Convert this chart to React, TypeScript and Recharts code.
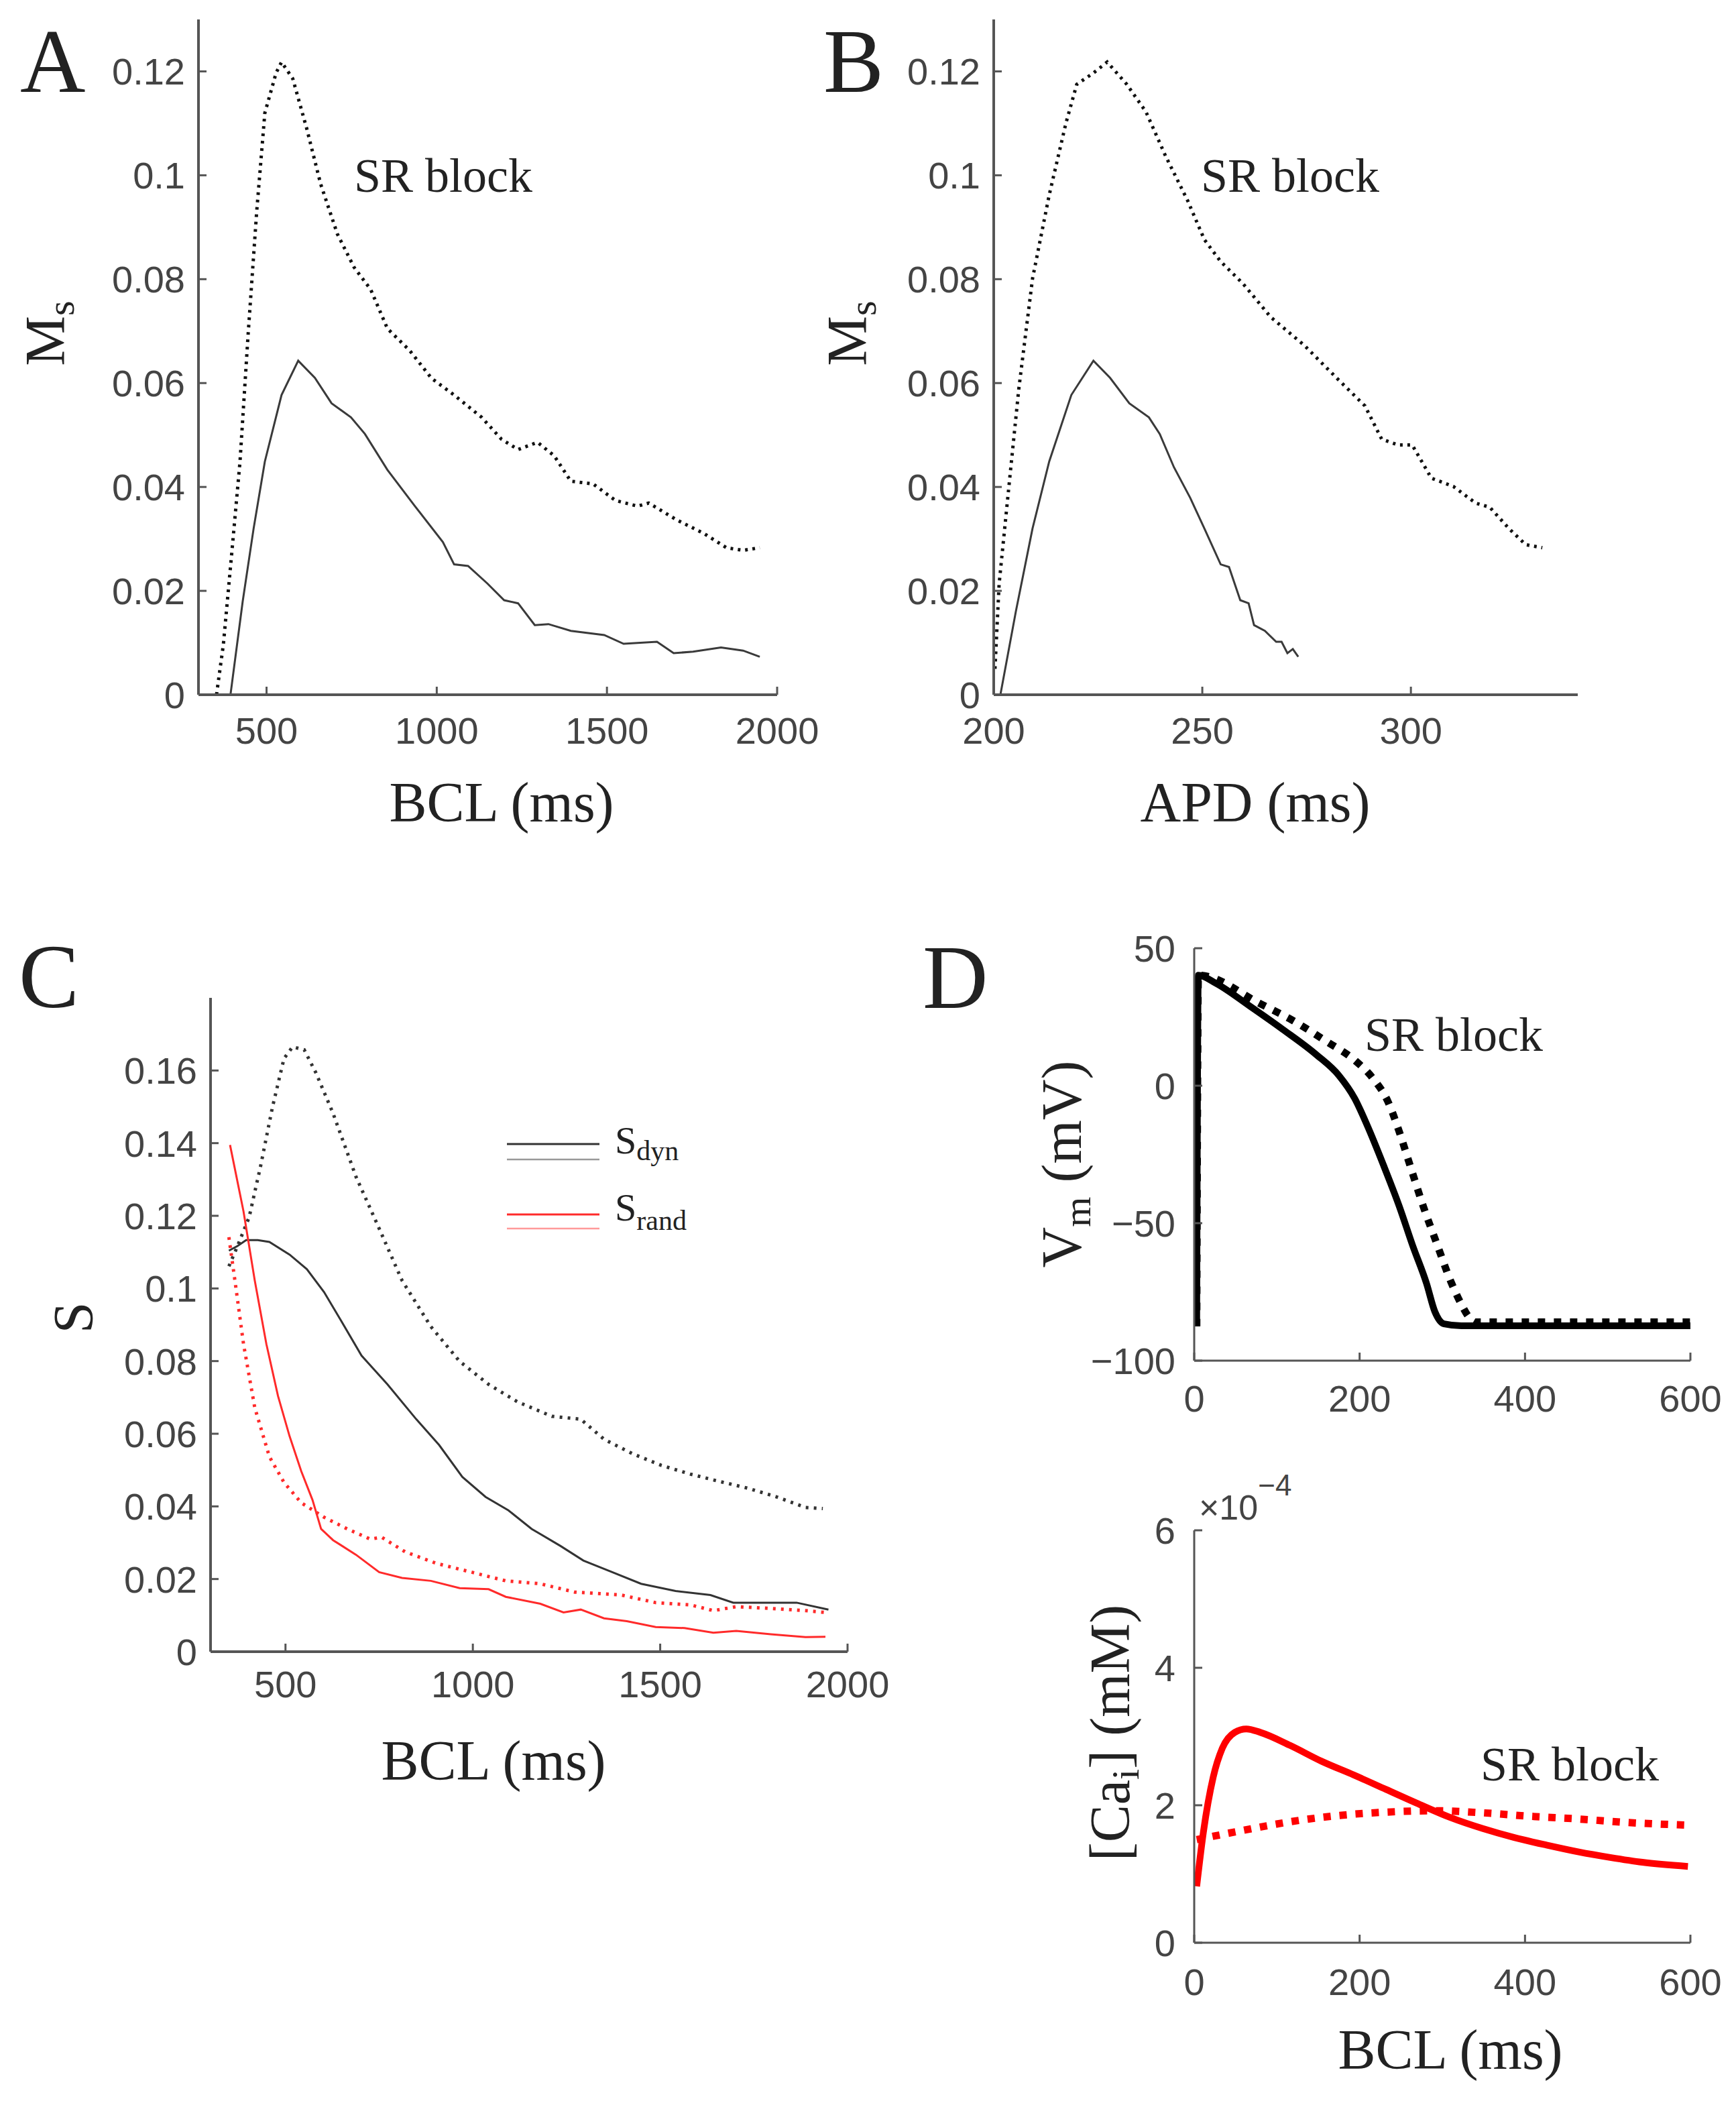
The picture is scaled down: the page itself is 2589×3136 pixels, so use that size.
import React from 'react'
import { LineChart, Line, XAxis, YAxis, Label, Legend } from 'recharts'

const SERIF = '"Liberation Serif", "DejaVu Serif", serif'
const SANS = '"Liberation Sans", Arial, sans-serif'
const INK = '#222'
const TICK = '#444'
const AXIS = '#555'
const RED = '#ff2a2a'

// ---------- A: Ms vs BCL ----------
const aCtrlBcl = [394, 430, 462, 495, 544, 593, 642, 691, 748, 789, 855, 936, 1018, 1051, 1092, 1149, 1198, 1239, 1288, 1328, 1394, 1492, 1549, 1647, 1696, 1753, 1835, 1900, 1949]
const aCtrlMs = [0, 0.018, 0.032, 0.0449, 0.0577, 0.0643, 0.061, 0.0561, 0.0534, 0.0502, 0.0433, 0.0363, 0.0294, 0.0251, 0.0248, 0.0214, 0.0182, 0.0176, 0.0134, 0.0136, 0.0123, 0.0115, 0.0098, 0.0102, 0.008, 0.0083, 0.0091, 0.0085, 0.0073]
const aSrBcl = [353, 373, 397, 422, 446, 471, 495, 528, 544, 577, 618, 659, 708, 757, 806, 855, 920, 985, 1051, 1132, 1190, 1239, 1296, 1345, 1394, 1459, 1525, 1590, 1623, 1704, 1786, 1851, 1900, 1949]
const aSrMs = [0, 0.0096, 0.0267, 0.0449, 0.0695, 0.093, 0.112, 0.1197, 0.1218, 0.1186, 0.109, 0.0983, 0.0887, 0.0823, 0.078, 0.0705, 0.0663, 0.0609, 0.0577, 0.0534, 0.0492, 0.0472, 0.0486, 0.046, 0.0411, 0.0406, 0.0374, 0.0363, 0.0369, 0.0337, 0.031, 0.0283, 0.0278, 0.0283]

// ---------- B: Ms vs APD ----------
const bCtrlApd = [201.6, 205.3, 209.3, 213.3, 218.6, 223.9, 227.9, 232.5, 237.2, 239.8, 243.2, 247.1, 250.5, 254.4, 256.4, 259.1, 261.1, 262.4, 265, 267.7, 269, 270.4, 271.7, 273]
const bCtrlMs = [0, 0.016, 0.032, 0.0449, 0.0577, 0.0643, 0.061, 0.0561, 0.0534, 0.0502, 0.0438, 0.0379, 0.032, 0.0251, 0.0246, 0.0182, 0.0176, 0.0134, 0.0123, 0.0102, 0.0102, 0.008, 0.0088, 0.0073]
const bSrApd = [200.3, 201.3, 203.3, 206, 209.3, 213.3, 217.3, 219.9, 223.9, 227.2, 231.9, 236.5, 241.2, 246.5, 250.5, 254.4, 259.8, 266.4, 274.4, 282.3, 289, 293, 296.9, 300.3, 304.9, 310.2, 315.5, 318.9, 323.5, 327.5, 331.5]
const bSrMs = [0.005, 0.0214, 0.0374, 0.0588, 0.0801, 0.0962, 0.11, 0.1175, 0.1197, 0.1218, 0.1175, 0.1122, 0.1037, 0.0951, 0.0876, 0.0834, 0.0791, 0.0727, 0.0673, 0.0609, 0.0556, 0.0492, 0.0481, 0.0481, 0.0417, 0.0401, 0.0369, 0.0361, 0.032, 0.0289, 0.0283]

// ---------- C: S vs BCL ----------
const cDynBcl = [349, 372, 395, 426, 457, 511, 557, 603, 649, 703, 772, 849, 910, 972, 1034, 1095, 1157, 1234, 1295, 1372, 1449, 1541, 1634, 1695, 1787, 1864, 1949]
const cDynS = [0.1104, 0.1117, 0.1133, 0.1133, 0.1128, 0.1093, 0.1053, 0.099, 0.091, 0.0815, 0.0736, 0.064, 0.0569, 0.0481, 0.0426, 0.0389, 0.0338, 0.0291, 0.0251, 0.0219, 0.0187, 0.0167, 0.0156, 0.0135, 0.0135, 0.0135, 0.0116]
const cDynSrBcl = [349, 372, 403, 434, 465, 496, 519, 550, 581, 627, 688, 750, 811, 888, 965, 1042, 1119, 1211, 1288, 1350, 1426, 1503, 1580, 1657, 1734, 1811, 1888, 1934]
const cDynSrS = [0.1061, 0.1117, 0.1196, 0.1339, 0.1498, 0.1633, 0.1665, 0.1657, 0.1594, 0.1482, 0.1308, 0.1165, 0.1022, 0.0895, 0.0799, 0.0736, 0.0688, 0.0648, 0.064, 0.0585, 0.0545, 0.0513, 0.0489, 0.0469, 0.045, 0.0426, 0.0397, 0.0394]
const cRandBcl = [352, 388, 418, 449, 480, 511, 542, 572, 595, 627, 688, 750, 811, 888, 965, 1042, 1088, 1180, 1242, 1288, 1350, 1411, 1488, 1565, 1642, 1703, 1795, 1888, 1941]
const cRandS = [0.1395, 0.1212, 0.1022, 0.0847, 0.0704, 0.0593, 0.0497, 0.0418, 0.0338, 0.0307, 0.0267, 0.0219, 0.0203, 0.0195, 0.0175, 0.0172, 0.0151, 0.0132, 0.0108, 0.0116, 0.0092, 0.0084, 0.0068, 0.0065, 0.0052, 0.0057, 0.0048, 0.004, 0.0041]
const cRandSrBcl = [349, 365, 388, 418, 457, 496, 542, 603, 665, 726, 757, 819, 903, 996, 1088, 1180, 1272, 1396, 1488, 1580, 1642, 1703, 1795, 1888, 1941]
const cRandSrS = [0.1141, 0.1022, 0.0847, 0.0672, 0.0537, 0.0466, 0.041, 0.037, 0.0338, 0.031, 0.0315, 0.0275, 0.0243, 0.0219, 0.0195, 0.0187, 0.0164, 0.0156, 0.0135, 0.0129, 0.0113, 0.0124, 0.0119, 0.0113, 0.0108]

// ---------- D: action potential and calcium transient ----------
const vmTime = [3, 5, 26, 67, 107, 148, 175, 194, 210, 229, 248, 264, 281, 291, 302, 323, 450, 600]
const vmCtrl = [-87.5, 40.2, 37.3, 29, 20.5, 11.2, 3.7, -4.6, -15, -29, -43.9, -58, -72, -82.2, -86.6, -87.3, -87.3, -87.3]
const vmSrTime = [3, 5, 80, 121, 161, 194, 216, 234, 248, 261, 277, 294, 310, 323, 332, 340, 450, 600]
const vmSr = [-87.5, 40.2, 29.8, 23.4, 15.9, 9.3, 2.7, -5.6, -16.8, -29, -43.9, -58, -71, -79.5, -84.1, -86, -86, -86]
const caTime = [3, 11, 23, 34, 49, 63, 80, 116, 154, 193, 232, 271, 310, 349, 387, 426, 465, 503, 542, 597]
const caCtrl = [0.82, 1.6, 2.41, 2.83, 3.06, 3.11, 3.06, 2.87, 2.64, 2.44, 2.23, 2.02, 1.82, 1.66, 1.53, 1.42, 1.32, 1.24, 1.17, 1.11]
const caSrTime = [3, 57, 116, 174, 232, 290, 349, 406, 465, 523, 597]
const caSr = [1.5, 1.63, 1.76, 1.85, 1.9, 1.92, 1.89, 1.84, 1.8, 1.75, 1.71]

// ---------- ticks ----------
const bclTicks = [500, 1000, 1500, 2000]
const apdTicks = [200, 250, 300]
const msTicks = [0, 0.02, 0.04, 0.06, 0.08, 0.1, 0.12]
const sTicks = [0, 0.02, 0.04, 0.06, 0.08, 0.1, 0.12, 0.14, 0.16]
const timeTicks = [0, 200, 400, 600]
const vmTicks = [-100, -50, 0, 50]
const caTicks = [0, 2, 4, 6]

const zip = (xs: number[], ys: number[]) => xs.map((x, i) => ({ x, y: ys[i] }))

type Box = { left: number; top: number; width: number; height: number }
type Plot = { left: number; top: number; right: number; bottom: number }

const YW = 100
const XH = 100

function margins(box: Box, plot: Plot) {
  return {
    left: plot.left - box.left - YW,
    top: plot.top - box.top,
    right: box.left + box.width - plot.right,
    bottom: box.top + box.height - plot.bottom - XH,
  }
}

const minus = (v: number) => (v < 0 ? `\u2212${Math.abs(v)}` : String(v))

function xAxisStyle(margin: number, width = 4) {
  return {
    type: 'number' as const,
    dataKey: 'x',
    height: XH,
    allowDataOverflow: true,
    tickSize: -12,
    tickMargin: margin,
    tick: { fontSize: 56, fill: TICK, fontFamily: SANS },
    tickLine: { stroke: AXIS, strokeWidth: 3 },
    axisLine: { stroke: AXIS, strokeWidth: width },
  }
}

function yAxisStyle(margin: number, width = 4) {
  return {
    type: 'number' as const,
    width: YW,
    allowDataOverflow: true,
    tickSize: -12,
    tickMargin: margin,
    tick: { fontSize: 56, fill: TICK, fontFamily: SANS },
    tickLine: { stroke: AXIS, strokeWidth: 3 },
    axisLine: { stroke: AXIS, strokeWidth: width },
  }
}

// text placed with page coordinates, shifted into the chart's own frame
function pageText(box: Box, x: number, y: number, size: number, body: React.ReactNode, anchor = 'start', rotate = false) {
  const lx = x - box.left
  const ly = y - box.top
  return (
    <Label
      content={() => (
        <text
          x={lx}
          y={ly}
          textAnchor={anchor}
          transform={rotate ? `rotate(-90 ${lx} ${ly})` : undefined}
          fontFamily={SERIF}
          fontSize={size}
          fill={INK}
        >
          {body}
        </text>
      )}
    />
  )
}

const boxA: Box = { left: 0, top: 0, width: 1240, height: 1300 }
const plotA: Plot = { left: 296, top: 29, right: 1159, bottom: 1036 }
const boxB: Box = { left: 1200, top: 0, width: 1389, height: 1300 }
const plotB: Plot = { left: 1482, top: 29, right: 2353, bottom: 1036 }
const boxC: Box = { left: 0, top: 1350, width: 1340, height: 1400 }
const plotC: Plot = { left: 314, top: 1488, right: 1264, bottom: 2463 }
const boxD1: Box = { left: 1340, top: 1350, width: 1249, height: 800 }
const plotD1: Plot = { left: 1781, top: 1414, right: 2521, bottom: 2029 }
const boxD2: Box = { left: 1340, top: 2150, width: 1249, height: 986 }
const plotD2: Plot = { left: 1781, top: 2282, right: 2521, bottom: 2897 }

const thin = { dot: false, isAnimationActive: false, type: 'linear' as const, dataKey: 'y' }
const thick = { dot: false, isAnimationActive: false, type: 'monotone' as const, dataKey: 'y' }

function Pos({ box, children }: { box: Box; children: React.ReactNode }) {
  return <div style={{ position: 'absolute', left: box.left, top: box.top }}>{children}</div>
}

// legend of panel C, drawn in page coordinates from its wrapper at (740, 1660)
function LegendC() {
  return (
    <svg width={360} height={200} style={{ overflow: 'visible' }}>
      <g transform="translate(-740, -1660)">
        <line x1={756} x2={894} y1={1706} y2={1706} stroke="#333" strokeWidth={3} />
        <line x1={756} x2={894} y1={1729} y2={1729} stroke="#999" strokeWidth={2.5} />
        <text x={917} y={1720} fontFamily={SERIF} fontSize={58} fill={INK}>
          S<tspan dy={10} fontSize={42}>dyn</tspan>
        </text>
        <line x1={756} x2={894} y1={1811} y2={1811} stroke={RED} strokeWidth={3} />
        <line x1={756} x2={894} y1={1832} y2={1832} stroke="#ff9a9a" strokeWidth={2.5} />
        <text x={917} y={1820} fontFamily={SERIF} fontSize={58} fill={INK}>
          S<tspan dy={14} fontSize={42}>rand</tspan>
        </text>
      </g>
    </svg>
  )
}

export default function App() {
  return (
    <div style={{ position: 'relative', width: 2589, height: 3136, background: '#fff', overflow: 'hidden' }}>
      <style>{'body{margin:0}'}</style>

      {/* A */}
      <Pos box={boxA}>
        <LineChart width={boxA.width} height={boxA.height} margin={margins(boxA, plotA)}>
          <XAxis {...xAxisStyle(45)} domain={[300, 2000]} ticks={bclTicks}>
            {pageText(boxA, 748, 1225, 84, 'BCL (ms)', 'middle')}
            {pageText(boxA, 528, 286, 72, 'SR block')}
            {pageText(boxA, 30, 137, 135, 'A')}
          </XAxis>
          <YAxis {...yAxisStyle(32)} domain={[0, 0.13]} ticks={msTicks}>
            {pageText(boxA, 96, 497, 84, <>M<tspan dy={14} fontSize={58}>s</tspan></>, 'middle', true)}
          </YAxis>
          <Line {...thin} data={zip(aCtrlBcl, aCtrlMs)} stroke="#3a3a3a" strokeWidth={3} />
          <Line {...thin} data={zip(aSrBcl, aSrMs)} stroke="#111" strokeWidth={5} strokeDasharray="4 7" />
        </LineChart>
      </Pos>

      {/* B */}
      <Pos box={boxB}>
        <LineChart width={boxB.width} height={boxB.height} margin={margins(boxB, plotB)}>
          <XAxis {...xAxisStyle(45)} domain={[200, 340]} ticks={apdTicks}>
            {pageText(boxB, 1872, 1225, 84, 'APD (ms)', 'middle')}
            {pageText(boxB, 1791, 286, 72, 'SR block')}
            {pageText(boxB, 1228, 137, 135, 'B')}
          </XAxis>
          <YAxis {...yAxisStyle(32)} domain={[0, 0.13]} ticks={msTicks}>
            {pageText(boxB, 1292, 497, 84, <>M<tspan dy={14} fontSize={58}>s</tspan></>, 'middle', true)}
          </YAxis>
          <Line {...thin} data={zip(bCtrlApd, bCtrlMs)} stroke="#3a3a3a" strokeWidth={3} />
          <Line {...thin} data={zip(bSrApd, bSrMs)} stroke="#111" strokeWidth={5} strokeDasharray="4 7" />
        </LineChart>
      </Pos>

      {/* C */}
      <Pos box={boxC}>
        <LineChart width={boxC.width} height={boxC.height} margin={margins(boxC, plotC)}>
          <XAxis {...xAxisStyle(40)} domain={[300, 2000]} ticks={bclTicks}>
            {pageText(boxC, 736, 2654, 84, 'BCL (ms)', 'middle')}
            {pageText(boxC, 28, 1502, 135, 'C')}
          </XAxis>
          <YAxis {...yAxisStyle(32)} domain={[0, 0.18]} ticks={sTicks}>
            {pageText(boxC, 138, 1965, 84, 'S', 'middle', true)}
          </YAxis>
          <Legend
            layout="vertical"
            align="center"
            verticalAlign="middle"
            wrapperStyle={{ left: 740, top: 310, width: 360, height: 200 }}
            content={() => <LegendC />}
          />
          <Line {...thin} data={zip(cDynBcl, cDynS)} stroke="#333" strokeWidth={3} />
          <Line {...thin} data={zip(cDynSrBcl, cDynSrS)} stroke="#333" strokeWidth={5} strokeDasharray="4 8" />
          <Line {...thin} data={zip(cRandBcl, cRandS)} stroke={RED} strokeWidth={3} />
          <Line {...thin} data={zip(cRandSrBcl, cRandSrS)} stroke={RED} strokeWidth={5} strokeDasharray="4 8" />
        </LineChart>
      </Pos>

      {/* D, membrane potential */}
      <Pos box={boxD1}>
        <LineChart width={boxD1.width} height={boxD1.height} margin={margins(boxD1, plotD1)}>
          <XAxis {...xAxisStyle(48, 3)} domain={[0, 600]} ticks={timeTicks}>
            {pageText(boxD1, 2035, 1567, 72, 'SR block')}
            {pageText(boxD1, 1376, 1503, 135, 'D')}
          </XAxis>
          <YAxis {...yAxisStyle(40, 3)} domain={[-100, 50]} ticks={vmTicks} tickFormatter={minus}>
            {pageText(
              boxD1, 1612, 1736, 84,
              <>V<tspan dy={14} fontSize={58}>m</tspan><tspan dy={-14}>{' (mV)'}</tspan></>,
              'middle', true,
            )}
          </YAxis>
          <Line {...thick} data={zip(vmSrTime, vmSr)} stroke="#000" strokeWidth={11} strokeDasharray="11 13" />
          <Line {...thick} data={zip(vmTime, vmCtrl)} stroke="#000" strokeWidth={10} />
        </LineChart>
      </Pos>

      {/* D, calcium */}
      <Pos box={boxD2}>
        <LineChart width={boxD2.width} height={boxD2.height} margin={margins(boxD2, plotD2)}>
          <XAxis {...xAxisStyle(50, 3)} domain={[0, 600]} ticks={timeTicks}>
            {pageText(boxD2, 2163, 3085, 84, 'BCL (ms)', 'middle')}
            {pageText(boxD2, 2208, 2655, 72, 'SR block')}
          </XAxis>
          <YAxis {...yAxisStyle(40, 3)} domain={[0, 6]} ticks={caTicks}>
            {pageText(
              boxD2, 1684, 2584, 84,
              <>[Ca<tspan dy={14} fontSize={58}>i</tspan><tspan dy={-14}>{'] (mM)'}</tspan></>,
              'middle', true,
            )}
            <Label
              content={() => (
                <text x={1788 - boxD2.left} y={2266 - boxD2.top} fontFamily={SANS} fontSize={52} fill={TICK}>
                  {'\u00d710'}
                  <tspan dy={-36} fontSize={44}>{'\u22124'}</tspan>
                </text>
              )}
            />
          </YAxis>
          <Line {...thick} data={zip(caSrTime, caSr)} stroke="#ff0000" strokeWidth={11} strokeDasharray="11 13" />
          <Line {...thick} data={zip(caTime, caCtrl)} stroke="#ff0000" strokeWidth={10} />
        </LineChart>
      </Pos>
    </div>
  )
}
